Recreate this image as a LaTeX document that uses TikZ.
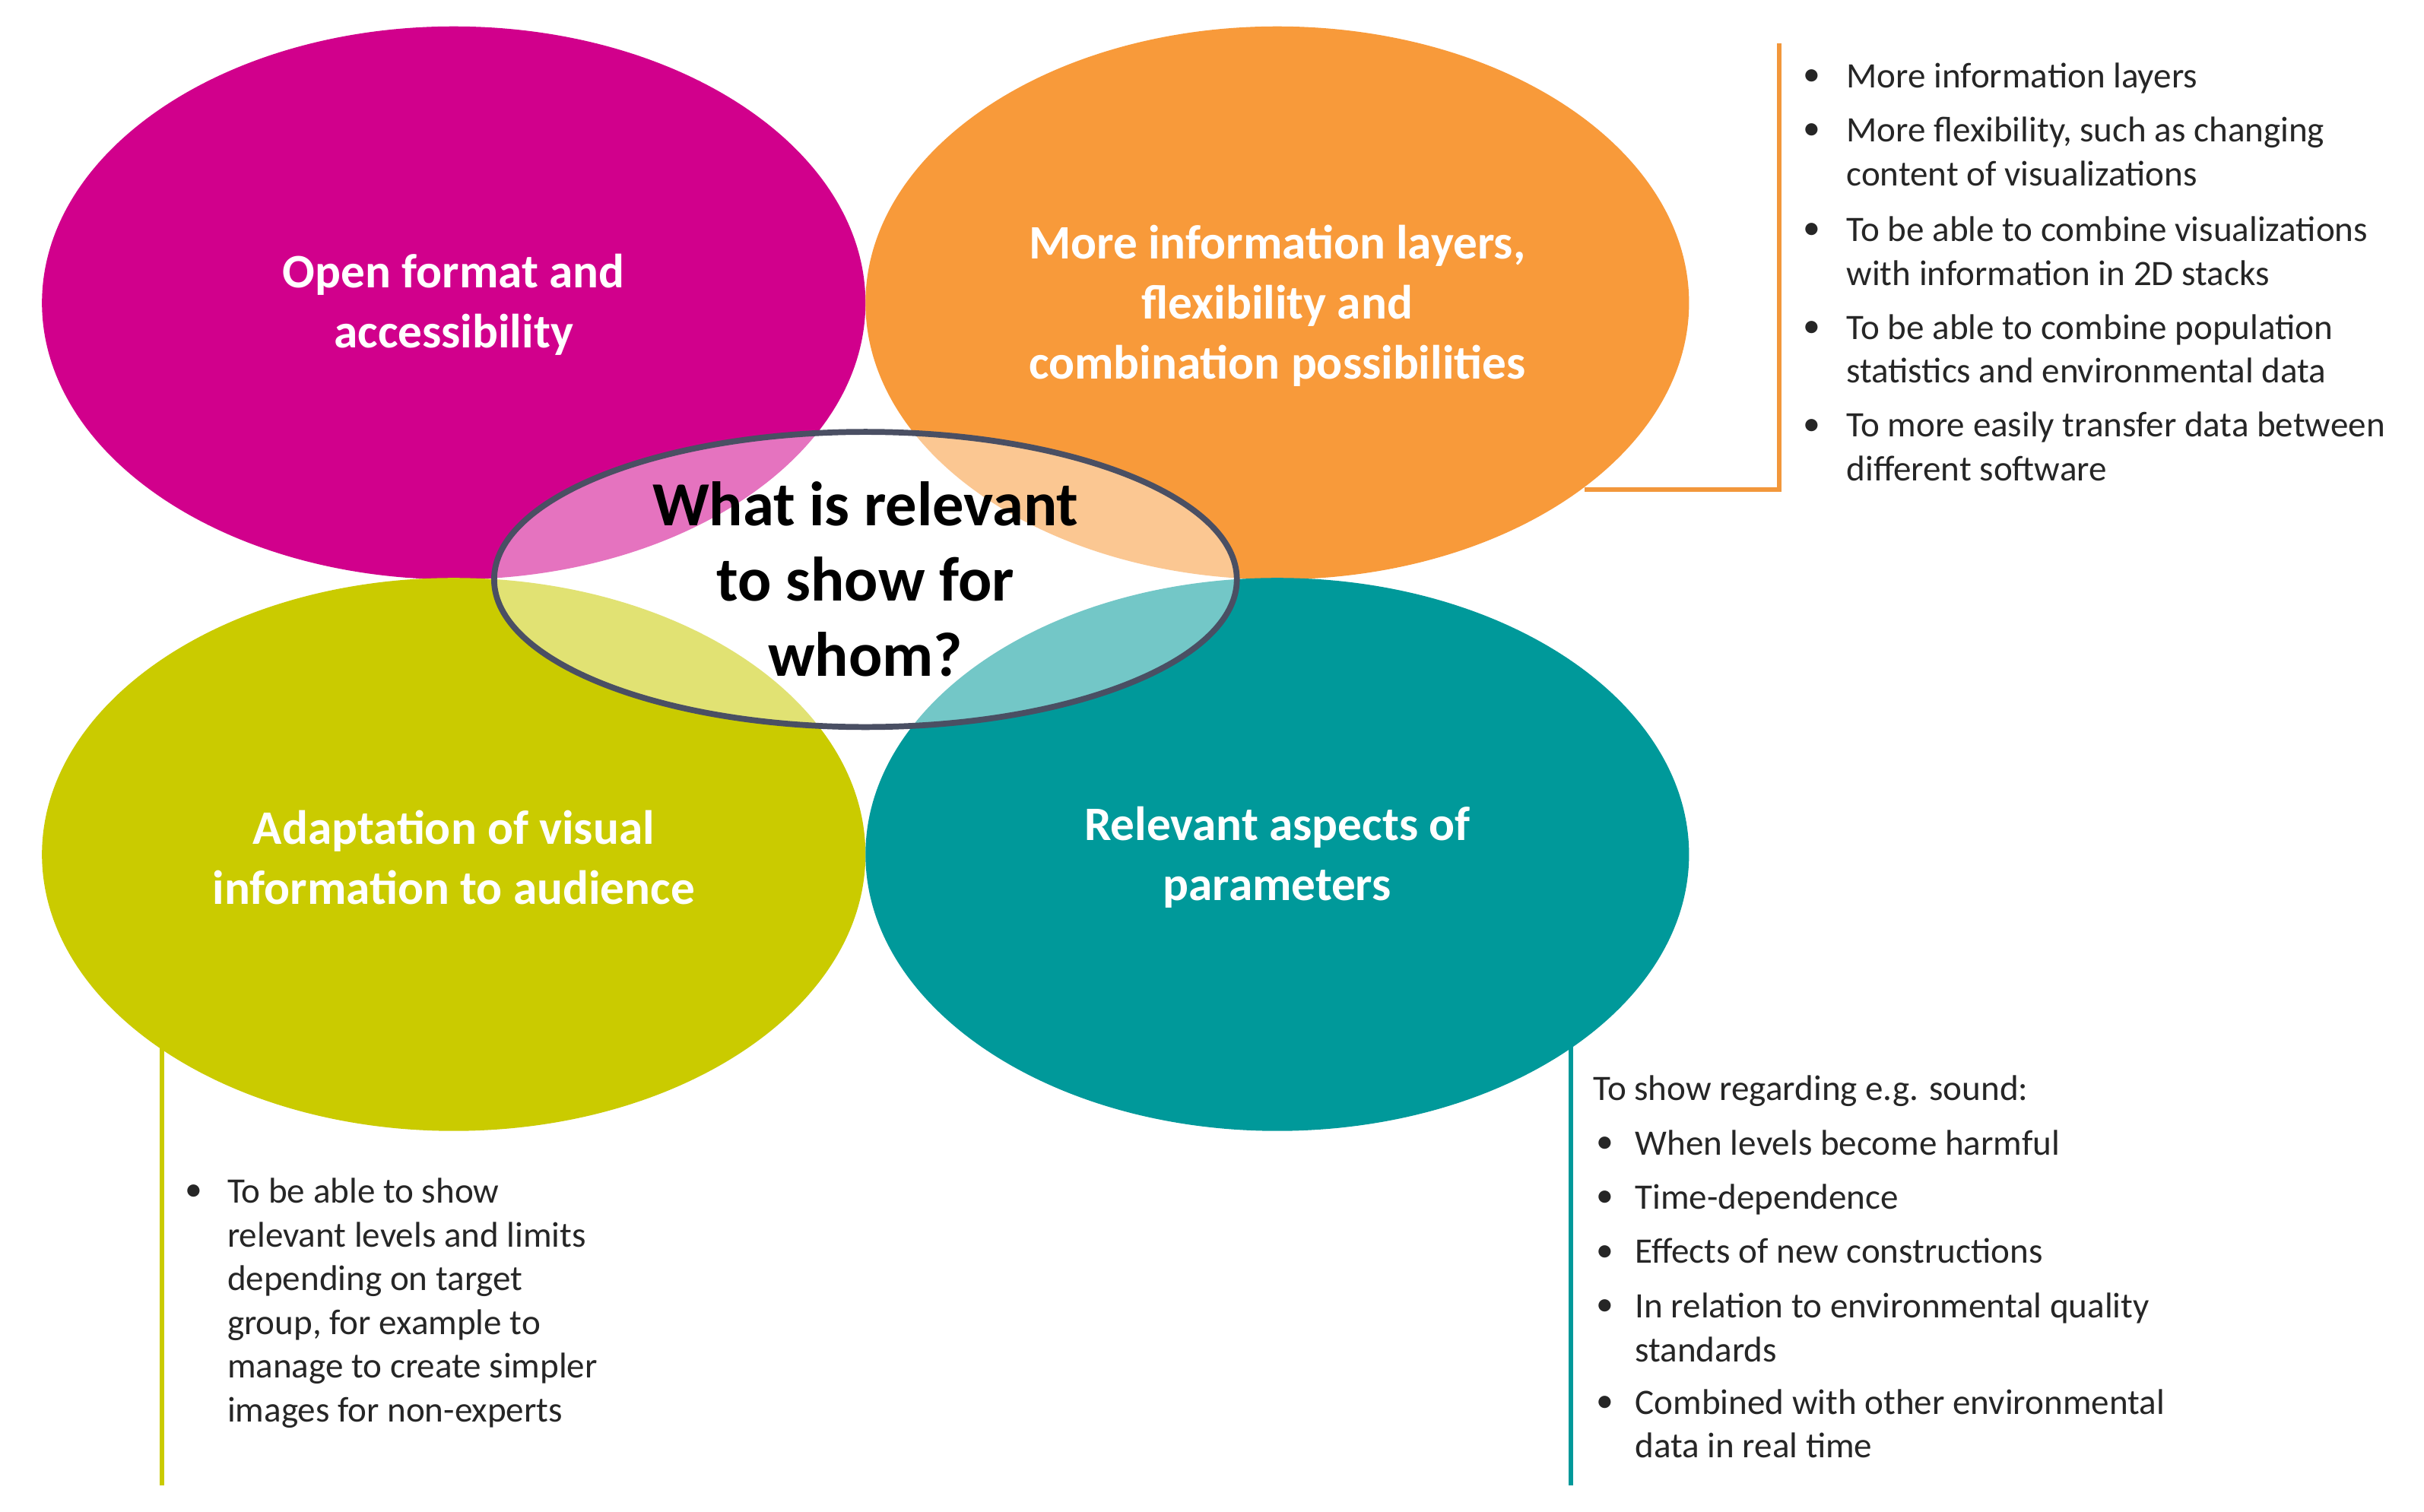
\documentclass[tikz,border=0pt]{standalone}
\usepackage{fontspec}
\setmainfont{Carlito}
\begin{document}
\begin{tikzpicture}[x=0.02044cm,y=-0.02044cm,
  lab/.style={text=white,font=\fontsize{18}{22.5}\selectfont\bfseries,align=center},
  txt/.style={anchor=north west,inner sep=0pt,font=\fontsize{13.4}{16.4}\selectfont,text=black!85,align=left},
  bul/.style={anchor=base west,inner sep=0pt,font=\fontsize{13}{16.4}\selectfont,text=black!85},
  conn/.style={line width=1.7pt}]
\definecolor{cmag}{HTML}{D1008C}
\definecolor{cora}{HTML}{F89A3A}
\definecolor{cyel}{HTML}{CACB00}
\definecolor{ctea}{HTML}{00999A}
\definecolor{cbord}{HTML}{4A4F63}
\useasboundingbox (0,0) rectangle (1560,973);
\fill[white] (0,0) rectangle (1560,973);
% ellipses
\fill[cmag] (292,195) ellipse [x radius=265,y radius=178];
\fill[cora] (822,195) ellipse [x radius=265,y radius=178];
\fill[cyel] (292,550) ellipse [x radius=265,y radius=178];
\fill[ctea] (822,550) ellipse [x radius=265,y radius=178];
\fill[white,fill opacity=0.45] (557,373) ellipse [x radius=239,y radius=95];
\draw[cbord,line width=2.2pt] (557,373) ellipse [x radius=239,y radius=95];
% labels
\node[lab] (lmag) at (292,196) {Open format and\\accessibility};
\node[lab] (lora) at (822,197) {More information layers,\\flexibility and\\combination possibilities};
\node[lab] (lyel) at (292,552) {Adaptation of visual\\information to audience};
\node[lab] (ltea) at (822,552) {Relevant aspects of\\parameters};
\node[align=center,font=\fontsize{23.5}{28.2}\selectfont\bfseries,text=black] (ctr) at (557,373) {What is relevant\\to show for\\whom?};
% connectors
\coordinate (o1) at (1020,315);
\coordinate (o2) at (1145,315);
\coordinate (o3) at (1145,28);
\draw[conn,draw=cora!90!brown] (o1) -- (o2) -- (o3);
\coordinate (y1) at (104,675);
\coordinate (y2) at (104,956);
\draw[conn,draw=cyel] (y1) -- (y2);
\coordinate (t1) at (1011,672);
\coordinate (t2) at (1011,956);
\draw[conn,draw=ctea] (t1) -- (t2);
% orange bullets
\node[bul] (ob1) at (1160,55) {•};
\node[txt] (ot1) at (1188,40) {More information layers};
\node[bul] (ob2) at (1160,90) {•};
\node[txt] (ot2) at (1188,75) {More flexibility, such as changing\\content of visualizations};
\node[bul] (ob3) at (1160,154) {•};
\node[txt] (ot3) at (1188,139) {To be able to combine visualizations\\with information in 2D stacks};
\node[bul] (ob4) at (1160,217) {•};
\node[txt] (ot4) at (1188,202) {To be able to combine population\\statistics and environmental data};
\node[bul] (ob5) at (1160,280) {•};
\node[txt] (ot5) at (1188,265) {To more easily transfer data between\\different software};
% yellow text
\node[bul] (yb1) at (119,773) {•};
\node[txt] (yt1) at (146,758) {To be able to show\\relevant levels and limits\\depending on target\\group, for example to\\manage to create simpler\\images for non-experts};
% teal text
\node[txt] (th) at (1025,692) {To show regarding e.g. sound:};
\node[bul] (tb1) at (1027,742) {•};
\node[txt] (tt1) at (1052,727) {When levels become harmful};
\node[bul] (tb2) at (1027,777) {•};
\node[txt] (tt2) at (1052,762) {Time-dependence};
\node[bul] (tb3) at (1027,812) {•};
\node[txt] (tt3) at (1052,797) {Effects of new constructions};
\node[bul] (tb4) at (1027,847) {•};
\node[txt] (tt4) at (1052,832) {In relation to environmental quality\\standards};
\node[bul] (tb5) at (1027,909) {•};
\node[txt] (tt5) at (1052,894) {Combined with other environmental\\data in real time};
\end{tikzpicture}
\end{document}
